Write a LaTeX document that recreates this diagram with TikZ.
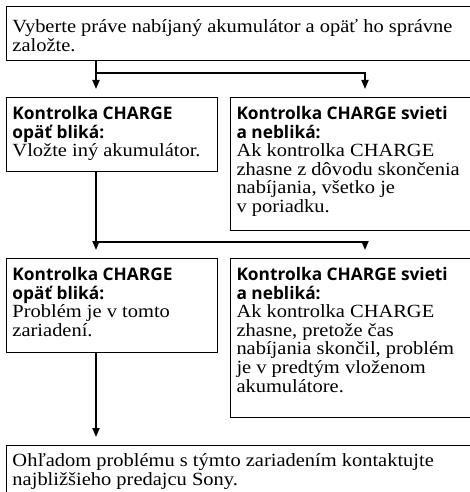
\documentclass[tikz,border=0pt]{standalone}
\usepackage{fontspec}
\setmainfont{Liberation Serif}[FakeStretch=1.10]
\newfontfamily\headfont{Open Sans}
\usetikzlibrary{arrows.meta}
\def\boxtxt#1#2#3#4{\parbox[t][#1][t]{#2}{\raggedright\fontsize{18.6}{18.6}\selectfont\lineskiplimit=-100pt\rule{0pt}{#3}#4}}
\def\head#1{{\headfont\bfseries\fontsize{17.3}{18.6}\selectfont #1}}

\begin{document}
\begin{tikzpicture}[x=1pt,y=-1pt,
    box/.style={draw,line width=1pt,anchor=north west,inner xsep=6pt,inner ysep=0pt},
    arr/.style={line width=1.8pt,-{Triangle[length=9pt,width=7pt]},shorten >=8pt}]
    \useasboundingbox (0,0) rectangle (470,492);
    %%%%% BOXES %%%%%
    \node[box] (top) at (6,6) {\boxtxt{54pt}{460pt}{26pt}{Vyberte práve nabíjaný akumulátor a opäť ho správne\\ založte.}};
    
    \node[box] (l1) at (6,97) {\boxtxt{74pt}{199pt}{22pt}{\head{Kontrolka CHARGE\\ opäť bliká:}\\ Vložte iný akumulátor.}};
    \node[box] (r1) at (230,97) {\boxtxt{133pt}{236pt}{22pt}{\head{Kontrolka CHARGE svieti\\ a nebliká:}\\ Ak kontrolka CHARGE\\ zhasne z dôvodu skončenia\\ nabíjania, všetko je\\ v poriadku.}};
    
    \node[box] (l2) at (6,258) {\boxtxt{94pt}{199pt}{22pt}{\head{Kontrolka CHARGE\\ opäť bliká:}\\ Problém je v tomto\\ zariadení.}};
    \node[box] (r2) at (230,258) {\boxtxt{159pt}{236pt}{22pt}{\head{Kontrolka CHARGE svieti\\ a nebliká:}\\ Ak kontrolka CHARGE\\ zhasne, pretože čas\\ nabíjania skončil, problém\\ je v predtým vloženom\\ akumulátore.}};
    
    \node[box] (bot) at (6,445) {\boxtxt{60pt}{460pt}{21pt}{Ohľadom problému s týmto zariadením kontaktujte\\ najbližšieho predajcu Sony.}};
    
    %%%%% ARROWS %%%%%
    \coordinate (j1) at (96,73);
    \coordinate (k1) at (365,73);
    \coordinate (j2) at (96,242);
    \coordinate (k2) at (365,242);
    
    \draw[arr] (j1 |- top.south) -- (j1 |- l1.north);
    \draw[arr] (j1) -- (k1) -- (k1 |- r1.north);
    \draw[arr] (j2 |- l1.south) -- (j2 |- l2.north);
    \draw[arr] (j2) -- (k2) -- (k2 |- r2.north);
    \draw[arr] (j2 |- l2.south) -- (j2 |- bot.north);
\end{tikzpicture}
\end{document}
